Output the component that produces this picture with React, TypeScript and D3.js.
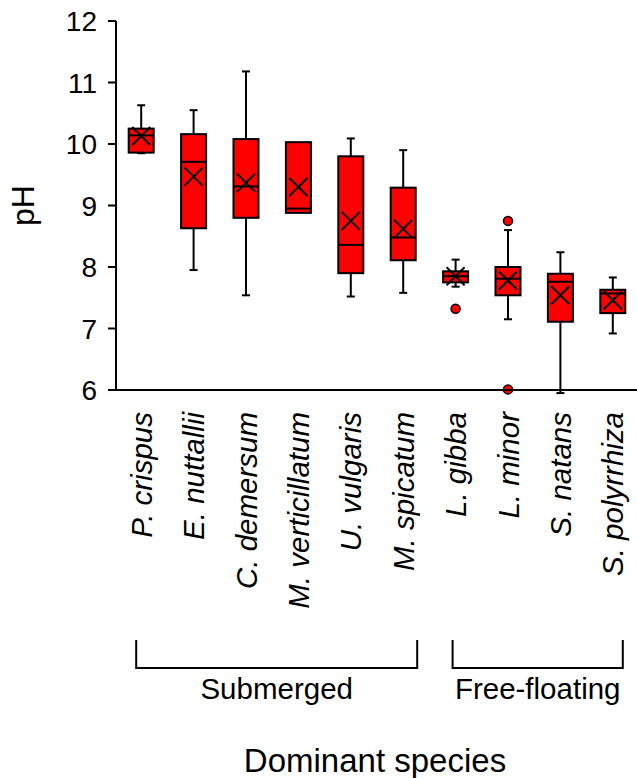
import React from "react";
import * as d3 from "d3";

const species = [
  "P. crispus",
  "E. nuttallii",
  "C. demersum",
  "M. verticillatum",
  "U. vulgaris",
  "M. spicatum",
  "L. gibba",
  "L. minor",
  "S. natans",
  "S. polyrrhiza",
];
const whiskerLow = [9.85, 7.95, 7.54, 8.88, 7.52, 7.58, 7.68, 7.15, 5.95, 6.92];
const q1 = [9.86, 8.63, 8.8, 8.88, 7.9, 8.11, 7.75, 7.54, 7.11, 7.25];
const median = [10.14, 9.71, 9.31, 8.95, 8.36, 8.48, 7.85, 7.81, 7.76, 7.57];
const q3 = [10.25, 10.16, 10.08, 10.03, 9.8, 9.29, 7.93, 8.0, 7.89, 7.63];
const whiskerHigh = [10.63, 10.55, 11.18, 10.03, 10.09, 9.9, 8.12, 8.6, 8.24, 7.83];
const mean = [10.13, 9.47, 9.37, 9.3, 8.75, 8.62, 7.85, 7.78, 7.54, 7.46];
const outliers: number[][] = [[], [], [], [], [], [], [7.32], [8.75, 6.01], [], []];
const yTicks = [6, 7, 8, 9, 10, 11, 12];
const groups = [
  { name: "Submerged", from: 0, to: 5 },
  { name: "Free-floating", from: 6, to: 9 },
];

const W = 637;
const H = 778;
const FONT = "'Liberation Sans', Arial, Helvetica, sans-serif";

export default function App() {
  const x = d3.scaleBand<string>().domain(species).range([115, 639]).padding(0);
  const y = d3.scaleLinear().domain([6, 12]).range([390, 21]);
  const cx = (i: number) => (x(species[i]) as number) + x.bandwidth() / 2;
  const boxHalf = 12.5;
  const capHalf = 4;
  const xHalf = 9;
  const axisX = 116;

  return (
    <svg
      width={W}
      height={H}
      style={{ position: "absolute", left: 0, top: 0, background: "#fff" }}
      fontFamily={FONT}
    >
      <rect x={0} y={0} width={W} height={H} fill="#fff" />
      {/* boxes */}
      {species.map((s, i) => {
        const c = cx(i);
        return (
          <g key={s} stroke="#000" strokeWidth={2}>
            {whiskerHigh[i] > q3[i] && (
              <>
                <line x1={c} x2={c} y1={y(q3[i])} y2={y(whiskerHigh[i])} />
                <line x1={c - capHalf} x2={c + capHalf} y1={y(whiskerHigh[i])} y2={y(whiskerHigh[i])} />
              </>
            )}
            {whiskerLow[i] < q1[i] && (
              <>
                <line x1={c} x2={c} y1={y(q1[i])} y2={y(whiskerLow[i])} />
                <line x1={c - capHalf} x2={c + capHalf} y1={y(whiskerLow[i])} y2={y(whiskerLow[i])} />
              </>
            )}
            <rect
              x={c - boxHalf}
              y={y(q3[i])}
              width={boxHalf * 2}
              height={y(q1[i]) - y(q3[i])}
              fill="#ff0000"
            />
            <line x1={c - boxHalf} x2={c + boxHalf} y1={y(median[i])} y2={y(median[i])} />
            <line x1={c - xHalf} x2={c + xHalf} y1={y(mean[i]) - xHalf} y2={y(mean[i]) + xHalf} />
            <line x1={c - xHalf} x2={c + xHalf} y1={y(mean[i]) + xHalf} y2={y(mean[i]) - xHalf} />
            {outliers[i].map((o, j) => (
              <circle key={j} cx={c} cy={y(o)} r={4.5} fill="#ff0000" strokeWidth={1.5} />
            ))}
          </g>
        );
      })}
      {/* y axis */}
      <g stroke="#000" strokeWidth={2}>
        <line x1={axisX} x2={axisX} y1={y(12)} y2={y(6)} />
        <line x1={108} x2={637} y1={y(6)} y2={y(6)} />
        {yTicks.map((t) => (
          <line key={t} x1={108} x2={axisX} y1={y(t)} y2={y(t)} />
        ))}
      </g>
      {yTicks.map((t) => (
        <text key={t} x={97} y={y(t)} dy="0.36em" textAnchor="end" fontSize={28} fill="#000">
          {t}
        </text>
      ))}
      <text
        transform={`translate(34, ${(y(6) + y(12)) / 2}) rotate(-90)`}
        textAnchor="middle"
        fontSize={32}
        fill="#000"
      >
        pH
      </text>
      {/* species labels */}
      {species.map((s, i) => (
        <text
          key={s}
          transform={`translate(${cx(i)}, 412) rotate(-90)`}
          dy="0.36em"
          textAnchor="end"
          fontSize={29.5}
          fontStyle="italic"
          fill="#000"
        >
          {s}
        </text>
      ))}
      {/* group brackets */}
      {groups.map((g, k) => {
        const x0 = k === 0 ? cx(g.from) - 5 : cx(g.from) - 3;
        const x1 = k === 0 ? cx(g.to) + 14 : cx(g.to) + 10;
        return (
          <g key={g.name}>
            <path
              d={`M${x0},640 V668 H${x1} V640`}
              fill="none"
              stroke="#000"
              strokeWidth={2}
            />
            <text x={(x0 + x1) / 2} y={699} textAnchor="middle" fontSize={29.5} fill="#000">
              {g.name}
            </text>
          </g>
        );
      })}
      <text x={375} y={772} textAnchor="middle" fontSize={33} fill="#000">
        Dominant species
      </text>
    </svg>
  );
}
